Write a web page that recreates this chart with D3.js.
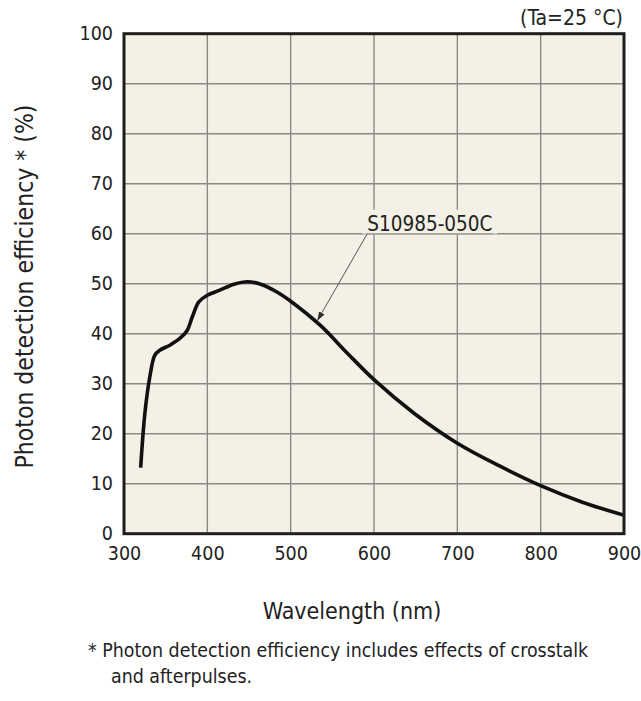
<!DOCTYPE html>
<html>
<head>
<meta charset="utf-8">
<script src="https://cdn.jsdelivr.net/npm/d3@7"></script>
<style>
  html, body { margin: 0; padding: 0; background: #ffffff; }
  svg { display: block; }
  text { font-family: "DejaVu Sans Condensed", "Open Sans", "DejaVu Sans", sans-serif; fill: #222; }
</style>
</head>
<body>
<svg id="chart" width="641" height="701"></svg>
<script>
// Photon detection efficiency of S10985-050C versus wavelength
const wavelength = [320, 325, 331, 337, 343, 355, 368, 376, 382, 390, 400, 415, 432, 448, 464, 484, 500, 536, 568, 602, 648, 700, 750, 800, 850, 900];
const pde = [13.2, 24, 31.4, 35.7, 36.7, 37.7, 39.2, 40.7, 43.4, 46.4, 47.7, 48.7, 49.9, 50.4, 49.9, 48.3, 46.5, 41.6, 36.1, 30.5, 24.1, 18.1, 13.6, 9.6, 6.3, 3.7];
const xTicks = [300, 400, 500, 600, 700, 800, 900];
const yTicks = [0, 10, 20, 30, 40, 50, 60, 70, 80, 90, 100];
const seriesName = "S10985-050C";
// label anchor (wavelength, %) and arrow tip on the curve
const labelAt = [667, 60];
const arrowTip = [532, 42.6];

const svg = d3.select("#chart");
const plotL = 124, plotR = 624, plotT = 33.7, plotB = 533.7;

const x = d3.scaleLinear().domain([300, 900]).range([plotL, plotR]);
const y = d3.scaleLinear().domain([0, 100]).range([plotB, plotT]);

// plot background
svg.append("rect")
  .attr("x", plotL).attr("y", plotT)
  .attr("width", plotR - plotL).attr("height", plotB - plotT)
  .attr("fill", "#f3f0e5");

// grid
const grid = svg.append("g").attr("stroke", "#8c8a85").attr("stroke-width", 1.4);
grid.selectAll("line.v").data(xTicks.slice(1, -1)).join("line")
  .attr("class", "v")
  .attr("x1", d => x(d)).attr("x2", d => x(d))
  .attr("y1", plotT).attr("y2", plotB);
grid.selectAll("line.h").data(yTicks.slice(1, -1)).join("line")
  .attr("class", "h")
  .attr("x1", plotL).attr("x2", plotR)
  .attr("y1", d => y(d)).attr("y2", d => y(d));

// axes (labels only; frame drawn separately)
const xAxis = d3.axisBottom(x).tickValues(xTicks).tickSize(0).tickPadding(12);
const gx = svg.append("g").attr("transform", `translate(0,${plotB})`).call(xAxis);
gx.attr("font-family", null).attr("font-size", null);
gx.select(".domain").remove();
gx.selectAll("text").attr("font-size", 19.5).attr("fill", "#222");

const yAxis = d3.axisLeft(y).tickValues(yTicks).tickSize(0).tickPadding(11);
const gy = svg.append("g").attr("transform", `translate(${plotL},0)`).call(yAxis);
gy.attr("font-family", null).attr("font-size", null);
gy.select(".domain").remove();
gy.selectAll("text").attr("font-size", 19.5).attr("fill", "#222");

// annotation: label box hides the grid behind it
const lx = x(labelAt[0]), ly = y(labelAt[1]);
const labelBg = svg.append("rect").attr("fill", "#f3f0e5");
const label = svg.append("text")
  .attr("x", lx).attr("y", ly - 3)
  .attr("text-anchor", "middle")
  .attr("font-size", 20.5)
  .text(seriesName);
const bb = label.node().getBBox();
labelBg
  .attr("x", bb.x - 5).attr("y", ly - 24)
  .attr("width", bb.width + 10).attr("height", 24);
svg.append("line")
  .attr("x1", bb.x).attr("x2", bb.x + bb.width + 1)
  .attr("y1", ly).attr("y2", ly)
  .attr("stroke", "#a8a6a0").attr("stroke-width", 1.4);

// arrow from label to curve
svg.append("defs").append("marker")
  .attr("id", "arrow").attr("viewBox", "0 0 10 10")
  .attr("refX", 10).attr("refY", 5)
  .attr("markerWidth", 9).attr("markerHeight", 9)
  .attr("markerUnits", "userSpaceOnUse")
  .attr("orient", "auto")
  .append("path").attr("d", "M0,1.5 L10,5 L0,8.5 Z").attr("fill", "#333");
svg.append("line")
  .attr("x1", bb.x).attr("y1", ly)
  .attr("x2", x(arrowTip[0])).attr("y2", y(arrowTip[1]))
  .attr("stroke", "#555").attr("stroke-width", 1)
  .attr("marker-end", "url(#arrow)");

// curve
const pts = wavelength.map((w, i) => [w, pde[i]]);
svg.append("path")
  .datum(pts)
  .attr("fill", "none")
  .attr("stroke", "#111")
  .attr("stroke-width", 3.6)
  .attr("stroke-linejoin", "round")
  .attr("d", d3.line().x(d => x(d[0])).y(d => y(d[1])).curve(d3.curveCatmullRom.alpha(0.5)));

// frame
svg.append("rect")
  .attr("x", plotL).attr("y", plotT)
  .attr("width", plotR - plotL).attr("height", plotB - plotT)
  .attr("fill", "none").attr("stroke", "#1e1e1e").attr("stroke-width", 3);

// condition note
svg.append("text")
  .attr("x", 623).attr("y", 25)
  .attr("text-anchor", "end")
  .attr("font-size", 21)
  .text("(Ta=25 °C)");

// axis titles
svg.append("text")
  .attr("x", 352).attr("y", 619)
  .attr("text-anchor", "middle")
  .attr("font-size", 23)
  .text("Wavelength (nm)");

svg.append("text")
  .attr("transform", "translate(33,286.5) rotate(-90)")
  .attr("text-anchor", "middle")
  .attr("font-size", 24.5)
  .text("Photon detection efficiency * (%)");

// footnote
svg.append("text")
  .attr("x", 88).attr("y", 657)
  .attr("font-size", 19.4)
  .text("* Photon detection efficiency includes effects of crosstalk");
svg.append("text")
  .attr("x", 111).attr("y", 683)
  .attr("font-size", 19.4)
  .text("and afterpulses.");
</script>
</body>
</html>
